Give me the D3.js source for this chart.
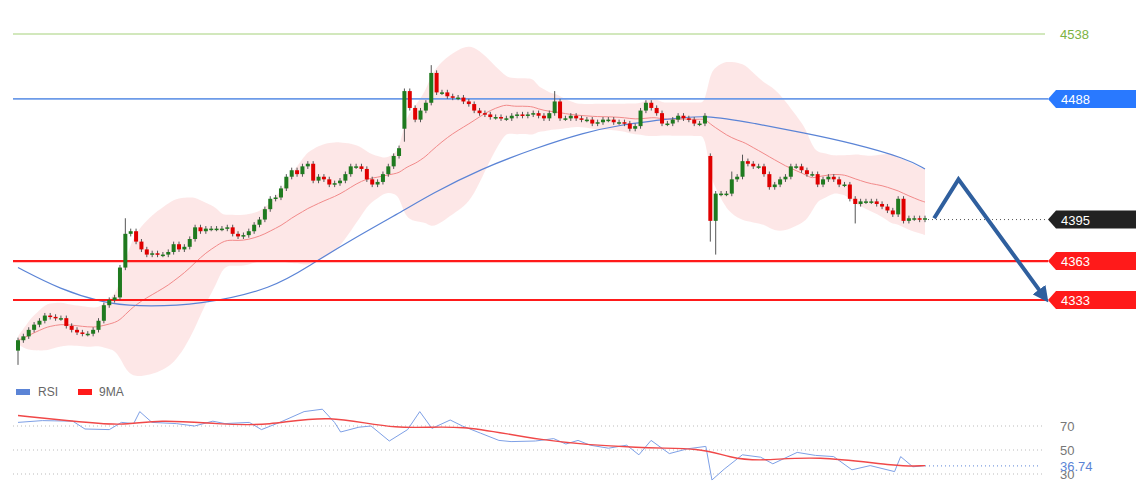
<!DOCTYPE html>
<html lang="en">
<head>
<meta charset="UTF-8">
<title>Price chart</title>
<style>
  body { margin: 0; background: #fff; font-family: "Liberation Sans", Arial, sans-serif; }
</style>
</head>
<body>
<div id="chart"></div>
<script src="https://d3js.org/d3.v7.min.js"></script>
<script>
// ---- data ----
const firstOpen = 4294;
const closes = [4302,4305,4310,4314,4317,4321,4320,4319,4319,4313,4310,4308,4307,4307,4310,4317,4329,4333,4335,4358,
  4384,4386,4378,4372,4368,4369,4368,4368,4370,4376,4372,4374,4380,4389,4386,4388,4388,4388,4388,4389,
  4384,4382,4383,4386,4391,4395,4403,4411,4412,4419,4428,4433,4430,4436,4438,4425,4428,4426,4422,4423,
  4425,4430,4436,4436,4434,4426,4422,4424,4430,4436,4444,4450,4494,4481,4472,4479,4485,4508,4493,4493,
  4490,4489,4489,4486,4484,4479,4477,4476,4474,4474,4473,4473,4475,4476,4475,4476,4477,4475,4473,4477,
  4486,4473,4473,4475,4473,4472,4472,4469,4470,4472,4472,4470,4470,4469,4465,4467,4479,4485,4481,4477,
  4469,4469,4472,4475,4473,4472,4469,4469,4475,4394,4415,4415,4415,4426,4428,4440,4438,4436,4436,4430,
  4420,4422,4426,4428,4436,4436,4433,4430,4430,4422,4426,4428,4426,4422,4422,4411,4407,4409,4409,4409,
  4407,4405,4402,4399,4411,4394,4396,4396,4395,4396];
const gapOpens = { 72: 4465, 129: 4444 };          // candles that opened away from previous close
const wickHigh = { 20: 4396, 77: 4514, 100: 4494, 133: 4432, 135: 4445 };
const wickLow = { 0: 4283, 72: 4455, 129: 4378, 130: 4368, 156: 4392 };
// indicator samples, x given on a 0..149 time grid covering the same span as the candles
const ma50 = [[0,4358],[7,4341],[14,4331],[19,4328],[30,4329],[42,4342],[48,4360],[55,4380],[63,4401],[68,4415],
  [76,4434],[85,4450],[93,4462],[99,4468],[106,4472],[113,4476],[121,4469],[129,4462],[137,4454],[146,4442],[149,4434]];
const rsi = [[0,73],[4,74.5],[9,74],[11,67.5],[15,67],[17,73],[19,72],[20,82],[22,73],[26,72],[29,70],[32,74],[34,72],
  [38,73],[40,67],[43,73],[47,82],[50,84],[52,73],[53,65],[56,69],[58,70],[61,57.5],[64,67],[66,82],[68,68],[71,75],
  [73,70],[76,64],[79,58],[81,57],[85,57.5],[88,59.5],[90,55],[92,58],[94,54],[97,51.5],[100,54],[102,46],[104,58],
  [107,47],[110,51],[113,53],[114,25],[116,34],[119,46],[122,44],[124,38.5],[128,48],[131,45.5],[134,44.5],[137,33.5],
  [140,37],[144,32],[145,44.5],[147,36],[149,37]];
const rsiMa = [[0,78.7],[9,74],[17,70],[23,75.5],[33,71.6],[41,70],[51,80],[62,66],[73,72],[85,57.5],[103,51],
  [112,52],[117,43.5],[122,40.5],[131,45.5],[145,36],[149,37]];
const rsiLast = 36.74;
const rsiTicks = [70, 50, 30];
const levels = [
  { v: 4538, kind: "target" },
  { v: 4488, kind: "resist" },
  { v: 4395, kind: "last" },
  { v: 4363, kind: "support" },
  { v: 4333, kind: "support" }
];
const arrowPath = [[150.5, 4396], [154.5, 4426], [168.5, 4336]];

// ---- layout ----
const W = 1140, H = 500;
const svg = d3.select("#chart").append("svg").attr("width", W).attr("height", H);

const N = closes.length;
const x = d3.scaleLinear().domain([0, N - 1]).range([18, 925]);
const xt = d3.scaleLinear().domain([0, 149]).range([18, 925]);
const y = d3.scaleLinear().domain([4538, 4333]).range([34, 300]);
const yr = d3.scaleLinear().domain([70, 30]).range([426, 474]);

const candles = closes.map((c, i) => {
  const o = gapOpens[i] !== undefined ? gapOpens[i] : (i === 0 ? firstOpen : closes[i - 1]);
  const hi = wickHigh[i] !== undefined ? wickHigh[i] : Math.max(o, c) + 2;
  const lo = wickLow[i] !== undefined ? wickLow[i] : Math.min(o, c) - 2;
  return { i, o, c, hi, lo };
});

// bollinger (20) and its middle line
const bb = closes.map((c, i) => {
  const win = closes.slice(Math.max(0, i - 19), i + 1);
  const m = d3.mean(win), s = d3.deviation(win) || 0;
  return { i, m, up: m + 2 * s + 3, dn: m - 2 * s - 3 };
});

svg.append("path")
  .datum(bb)
  .attr("fill", "#fde3e3")
  .attr("opacity", 0.85)
  .attr("d", d3.area().curve(d3.curveBasis).x(d => x(d.i)).y0(d => y(d.dn)).y1(d => y(d.up)));

svg.append("path")
  .datum(bb)
  .attr("fill", "none").attr("stroke", "#f28a8a").attr("stroke-width", 1)
  .attr("d", d3.line().curve(d3.curveBasis).x(d => x(d.i)).y(d => y(d.m)));

svg.append("path")
  .datum(ma50)
  .attr("fill", "none").attr("stroke", "#5b84d6").attr("stroke-width", 1.2)
  .attr("d", d3.line().curve(d3.curveBasis).x(d => xt(d[0])).y(d => y(d[1])));

// levels
levels.forEach(l => {
  const yy = y(l.v);
  if (l.kind === "target") {
    svg.append("line").attr("x1", 13).attr("x2", 1045).attr("y1", yy).attr("y2", yy)
      .attr("stroke", "#a5d17a").attr("stroke-width", 1);
    svg.append("text").attr("x", 1060).attr("y", yy + 5).attr("fill", "#7cb342")
      .attr("font-size", 13).text(l.v);
    return;
  }
  let col = "#ff1a1a", box = "#ff1a1a", sw = 2.2;
  if (l.kind === "resist") { col = "#6d9be8"; box = "#2979ff"; sw = 1.6; }
  if (l.kind === "last") { col = "#555"; box = "#222"; sw = 1; }
  const ln = svg.append("line").attr("x1", l.kind === "last" ? 928 : 13).attr("x2", 1048)
    .attr("y1", yy).attr("y2", yy).attr("stroke", col).attr("stroke-width", sw);
  if (l.kind === "last") ln.attr("stroke-dasharray", "1,3");
  svg.append("path")
    .attr("d", `M1048,${yy} L1056,${yy - 9} L1136,${yy - 9} L1136,${yy + 9} L1056,${yy + 9} Z`)
    .attr("fill", box);
  svg.append("text").attr("x", 1061).attr("y", yy + 5).attr("fill", "#fff")
    .attr("font-size", 13).text(l.v);
});

// candles
const g = svg.append("g");
g.selectAll(".wick").data(candles).enter().append("line")
  .attr("x1", d => x(d.i)).attr("x2", d => x(d.i))
  .attr("y1", d => y(d.hi)).attr("y2", d => y(d.lo))
  .attr("stroke", "#555").attr("stroke-width", 1);
g.selectAll(".body").data(candles).enter().append("rect")
  .attr("x", d => x(d.i) - 2).attr("width", 4)
  .attr("y", d => y(Math.max(d.o, d.c)))
  .attr("height", d => Math.max(1.5, Math.abs(y(d.o) - y(d.c))))
  .attr("fill", d => d.c >= d.o ? "#1f7a1f" : "#e00000");

// forecast arrow
svg.append("defs").append("marker")
  .attr("id", "ah").attr("viewBox", "0 0 10 10").attr("refX", 5).attr("refY", 5)
  .attr("markerWidth", 4).attr("markerHeight", 4).attr("orient", "auto")
  .append("path").attr("d", "M0,0 L10,5 L0,10 Z").attr("fill", "#2f5f9e");
svg.append("path")
  .datum(arrowPath)
  .attr("fill", "none").attr("stroke", "#2f5f9e").attr("stroke-width", 4)
  .attr("marker-end", "url(#ah)")
  .attr("d", d3.line().x(d => xt(d[0])).y(d => y(d[1])));

// ---- RSI panel ----
const lg = svg.append("g").attr("font-size", 12).attr("fill", "#666");
lg.append("rect").attr("x", 16).attr("y", 389).attr("width", 14).attr("height", 6).attr("fill", "#5b84d6");
lg.append("text").attr("x", 38).attr("y", 396).text("RSI");
lg.append("rect").attr("x", 78).attr("y", 389).attr("width", 14).attr("height", 6).attr("fill", "#ff1a1a");
lg.append("text").attr("x", 99).attr("y", 396).text("9MA");

rsiTicks.forEach(t => {
  svg.append("line").attr("x1", 13).attr("x2", 1045).attr("y1", yr(t)).attr("y2", yr(t))
    .attr("stroke", "#bbb").attr("stroke-dasharray", "1,3");
  svg.append("text").attr("x", 1060).attr("y", yr(t) + 5).attr("fill", "#777")
    .attr("font-size", 13).text(t);
});

svg.append("path").datum(rsi)
  .attr("fill", "none").attr("stroke", "#7ea0e6").attr("stroke-width", 1)
  .attr("d", d3.line().x(d => xt(d[0])).y(d => yr(d[1])));
svg.append("path").datum(rsiMa)
  .attr("fill", "none").attr("stroke", "#f04848").attr("stroke-width", 1.4)
  .attr("d", d3.line().curve(d3.curveBasis).x(d => xt(d[0])).y(d => yr(d[1])));

svg.append("line").attr("x1", xt(149)).attr("x2", 1040).attr("y1", yr(rsiLast)).attr("y2", yr(rsiLast))
  .attr("stroke", "#5b84d6").attr("stroke-dasharray", "1,3");
svg.append("rect").attr("x", 1056).attr("y", yr(rsiLast) - 9).attr("width", 45).attr("height", 12).attr("fill", "#fff");
svg.append("text").attr("x", 1060).attr("y", yr(rsiLast) + 5).attr("fill", "#5b84d6")
  .attr("font-size", 13).text(rsiLast);
</script>
</body>
</html>
